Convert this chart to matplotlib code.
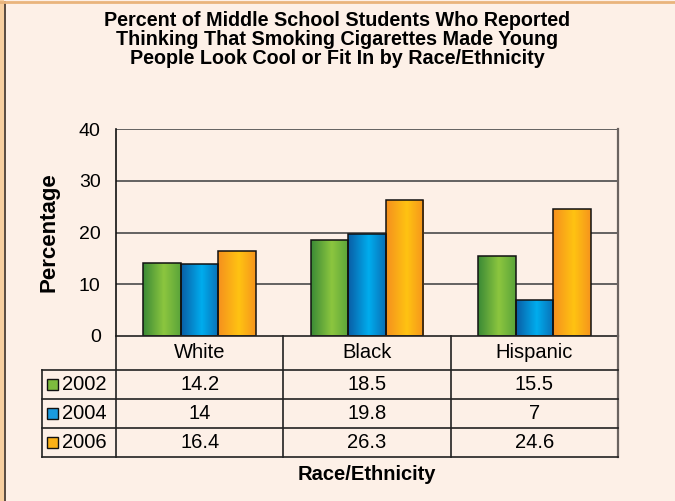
import numpy as np
import matplotlib.pyplot as plt
from matplotlib.colors import LinearSegmentedColormap

# datos
categorias = ["White", "Black", "Hispanic"]
anios = ["2002", "2004", "2006"]
v2002 = [14.2, 18.5, 15.5]
v2004 = [14, 19.8, 7]
v2006 = [16.4, 26.3, 24.6]
etiquetas_tabla = [["14.2", "18.5", "15.5"],
                   ["14", "19.8", "7"],
                   ["16.4", "26.3", "24.6"]]
yticks = [0, 10, 20, 30, 40]

titulo = ("Percent of Middle School Students Who Reported\n"
          "Thinking That Smoking Cigarettes Made Young\n"
          "People Look Cool or Fit In by Race/Ethnicity")

# colores degradados (oscuro, claro, oscuro)
degradados = [
    ["#3b8a36", "#8cc63f", "#5aa43a"],
    ["#0a5ea6", "#00adee", "#0a6fb5"],
    ["#f5901e", "#ffc312", "#f6951c"],
]
colores_solidos = ["#7dbb3e", "#1a9be0", "#fbb116"]

fondo = "#fdf0e7"

plt.rcParams['font.family'] = ['Liberation Sans', 'DejaVu Sans']

W, H = 675, 501
fig = plt.figure(figsize=(W / 100, H / 100), dpi=100, facecolor=fondo)

# ejes en pixeles
x0, x1 = 116, 618
y0, y1 = 336, 129
ax = fig.add_axes([x0 / W, (H - y0) / H, (x1 - x0) / W, (y0 - y1) / H])
ax.set_facecolor(fondo)

# cuadricula
for yv in yticks[1:]:
    ax.axhline(yv, color="#4a4a4a", lw=1.2, zorder=1)

ax.set_yticks(yticks)
ax.set_yticklabels([str(t) for t in yticks], fontsize=14)
ax.tick_params(axis='y', length=0, pad=11)
ax.set_xticks([])
for s in ["top", "bottom"]:
    ax.spines[s].set_visible(False)
ax.spines["left"].set_color("#111111")
ax.spines["left"].set_linewidth(1.2)
ax.spines["right"].set_color("#6b6360")
ax.spines["right"].set_linewidth(1.6)

series = [v2002, v2004, v2006]
ancho = 0.224
x = np.arange(len(categorias))
grad = np.linspace(0, 1, 64).reshape(1, -1)
for i, vals in enumerate(series):
    cmap = LinearSegmentedColormap.from_list(f"g{i}", [(0, degradados[i][0]), (0.55, degradados[i][1]), (1, degradados[i][2])])
    xs = x + (i - 1) * ancho
    barras = ax.bar(xs, vals, width=ancho, color="none", edgecolor="#111111", lw=1.1, zorder=4)
    for b in barras:
        bx, by = b.get_x(), b.get_y()
        im = ax.imshow(grad, cmap=cmap, aspect='auto', zorder=3,
                       extent=[bx, bx + b.get_width(), by, by + b.get_height()])
        im.set_clip_path(b)
ax.set_xlim(-0.5, 2.5)
ax.set_ylim(0, 40)

# tabla debajo del grafico (en unidades de datos)
u = 40 / (y0 - y1)          # unidades por pixel
h_cab = 34 * u
h_fila = 29 * u
px_cat = (x1 - x0) / 3      # pixeles por categoria
izq = -0.5 - 74 / px_cat
lc = "#222222"
kw = dict(color=lc, lw=1.2, clip_on=False, zorder=5)

# fila de encabezado
ax.plot([-0.5, 2.5], [0, 0], **kw)
for xv in [-0.5, 0.5, 1.5]:
    ax.plot([xv, xv], [0, -h_cab - 3 * h_fila], **kw)
ax.plot([2.5, 2.5], [0, -h_cab - 3 * h_fila], color="#6b6360", lw=1.6, clip_on=False, zorder=5)
for j, c in enumerate(categorias):
    ax.text(j, -h_cab / 2, c, ha="center", va="center", fontsize=14.5)

for r in range(4):
    yy = -h_cab - r * h_fila
    ax.plot([izq, 2.5], [yy, yy], **kw)
ax.plot([izq, izq], [-h_cab, -h_cab - 3 * h_fila], **kw)

for r, anio in enumerate(anios):
    yc = -h_cab - (r + 0.5) * h_fila
    ax.add_patch(plt.Rectangle((izq + 5 / px_cat, yc - 5.5 * u), 11 / px_cat, 11 * u,
                               facecolor=colores_solidos[r], edgecolor="#111111", lw=1,
                               clip_on=False, zorder=5))
    ax.text(izq + 20 / px_cat, yc, anio, ha="left", va="center", fontsize=14.5)
    for j in range(len(categorias)):
        ax.text(j, yc, etiquetas_tabla[r][j], ha="center", va="center", fontsize=14.5)

ax.text(1, -h_cab - 3 * h_fila - 17 * u, "Race/Ethnicity", ha="center", va="center",
        fontsize=14.5, fontweight="bold")

ax.set_ylabel("Percentage", fontsize=16, fontweight="bold", labelpad=14)

fig.text(0.5, 1 - 39 / H, titulo, ha="center", va="center", fontsize=14.2,
         fontweight="bold", linespacing=1.0)

# marco de la imagen
fig.add_artist(plt.Line2D([4.5 / W, 4.5 / W], [0, 1 - 2 / H], color="#3c2e24", lw=1.2))
fig.add_artist(plt.Rectangle((0, 0), 3.5 / W, 1, facecolor="#f7cfa0", edgecolor="none"))
fig.add_artist(plt.Line2D([0, 1], [1 - 1.5 / H, 1 - 1.5 / H], color="#e9b47c", lw=2))

fig.savefig("out.png", dpi=100, facecolor=fondo)
